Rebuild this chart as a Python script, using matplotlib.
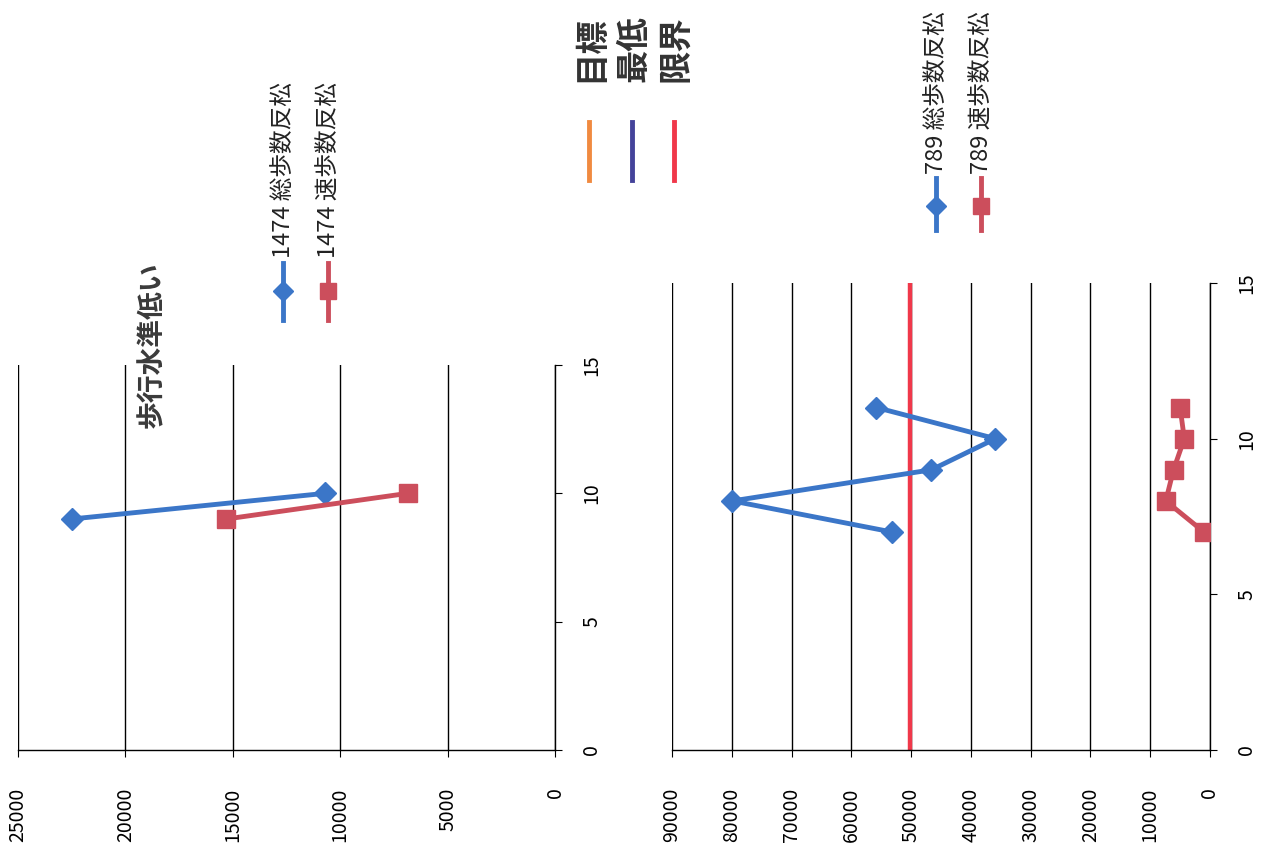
import numpy as np
import matplotlib
matplotlib.use('Agg')
import matplotlib.pyplot as plt
from matplotlib.lines import Line2D

plt.rcParams['font.family'] = ['Noto Sans CJK JP', 'DejaVu Sans']

# left chart data (1474)
days_1474 = [9, 10]
total_1474 = [22500, 10700]
fast_1474 = [15300, 6850]

# right chart data (789)
days_789 = [7, 8, 9, 10, 11]
total_789 = [53150, 79900, 46600, 35900, 55800]
fast_789 = [1000, 7400, 6100, 4300, 5000]
limit_789 = 50200

title_left = '歩行水準低い'
legend_left = ['1474 総歩数反松', '1474 速歩数反松']
legend_right = ['789 総歩数反松', '789 速歩数反松']
ref_labels = ['目標', '最低', '限界']

BLUE = '#3B76C8'
RED = '#CC4E5C'
REF_COLORS = ['#F08A40', '#44439A', '#F0384A']
W, H = 1261, 848


def px(x, y):
    # pixel coords (from top-left) -> figure fraction
    return x / W, 1 - y / H


def setup_axes(ax, vmax, vstep):
    ax.set_xlim(vmax, 0)
    ax.set_ylim(0, 15)
    ax.set_xticks(np.arange(0, vmax + 1, vstep))
    ax.set_yticks([0, 5, 10, 15])
    ax.yaxis.tick_right()
    ax.grid(axis='x', color='black', linewidth=1.0)
    ax.set_axisbelow(True)
    for s in ['top', 'left']:
        ax.spines[s].set_visible(False)
    for s in ['right', 'bottom']:
        ax.spines[s].set_color('black')
        ax.spines[s].set_linewidth(1.0)
    ax.tick_params(axis='x', labelrotation=90, labelsize=14, length=5, color='black', pad=22)
    ax.tick_params(axis='y', labelrotation=90, labelsize=14, length=5, color='black', pad=14)
    for lab in ax.get_yticklabels():
        lab.set_va('center')


fig = plt.figure(figsize=(W / 100, H / 100), dpi=100)
fig.patch.set_facecolor('white')

l0, b0 = px(18, 750)
l1, t1 = px(555, 365)
ax1 = fig.add_axes([l0, b0, l1 - l0, t1 - b0])
setup_axes(ax1, 25000, 5000)
ax1.plot(total_1474, days_1474, color=BLUE, lw=3.5, marker='D', ms=11, zorder=3)
ax1.plot(fast_1474, days_1474, color=RED, lw=3.5, marker='s', ms=13, zorder=3)

r0, _ = px(672, 750)
r1, t2 = px(1210, 283)
ax2 = fig.add_axes([r0, b0, r1 - r0, t2 - b0])
setup_axes(ax2, 90000, 10000)
ax2.axvline(limit_789, color=REF_COLORS[2], lw=3.2, zorder=2)
ax2.plot(total_789, days_789, color=BLUE, lw=3.5, marker='D', ms=11, zorder=3)
ax2.plot(fast_789, days_789, color=RED, lw=3.5, marker='s', ms=13, zorder=3)

# title
fig.text(*px(152, 345), title_left, rotation=90, fontsize=20, fontweight='bold',
         color='#3A3A3A', ha='center', va='center')


def legend_entry(x, y_line0, y_line1, y_mark, color, marker, ms, label, y_text):
    fx0, fy0 = px(x, y_line0)
    _, fy1 = px(x, y_line1)
    fig.add_artist(Line2D([fx0, fx0], [fy0, fy1], color=color, lw=3.5,
                          transform=fig.transFigure))
    mx, my = px(x, y_mark)
    fig.add_artist(Line2D([mx], [my], color=color, marker=marker, ms=ms,
                          transform=fig.transFigure))
    tx, ty = px(x + 1, y_text)
    fig.text(tx, ty, label, rotation=90, rotation_mode='anchor', fontsize=17,
             ha='left', va='center', color='#222222')


legend_entry(283, 263, 320, 291, BLUE, 'D', 10, legend_left[0], 258)
legend_entry(328, 263, 320, 291, RED, 's', 12, legend_left[1], 258)
legend_entry(936, 178, 230, 206, BLUE, 'D', 10, legend_right[0], 174)
legend_entry(981, 178, 230, 206, RED, 's', 12, legend_right[1], 174)

# reference line legend
for xline, lab, col in zip([589, 632, 674], ref_labels, REF_COLORS):
    fx, fy0 = px(xline, 122)
    _, fy1 = px(xline, 180)
    fig.add_artist(Line2D([fx, fx], [fy0, fy1], color=col, lw=3.5,
                          transform=fig.transFigure))
    tx, ty = px(xline + 2, 82)
    fig.text(tx, ty, lab, rotation=90, rotation_mode='anchor', fontsize=24,
             fontweight='bold', ha='left', va='center', color='#333333')

fig.savefig('out.png', dpi=100)
